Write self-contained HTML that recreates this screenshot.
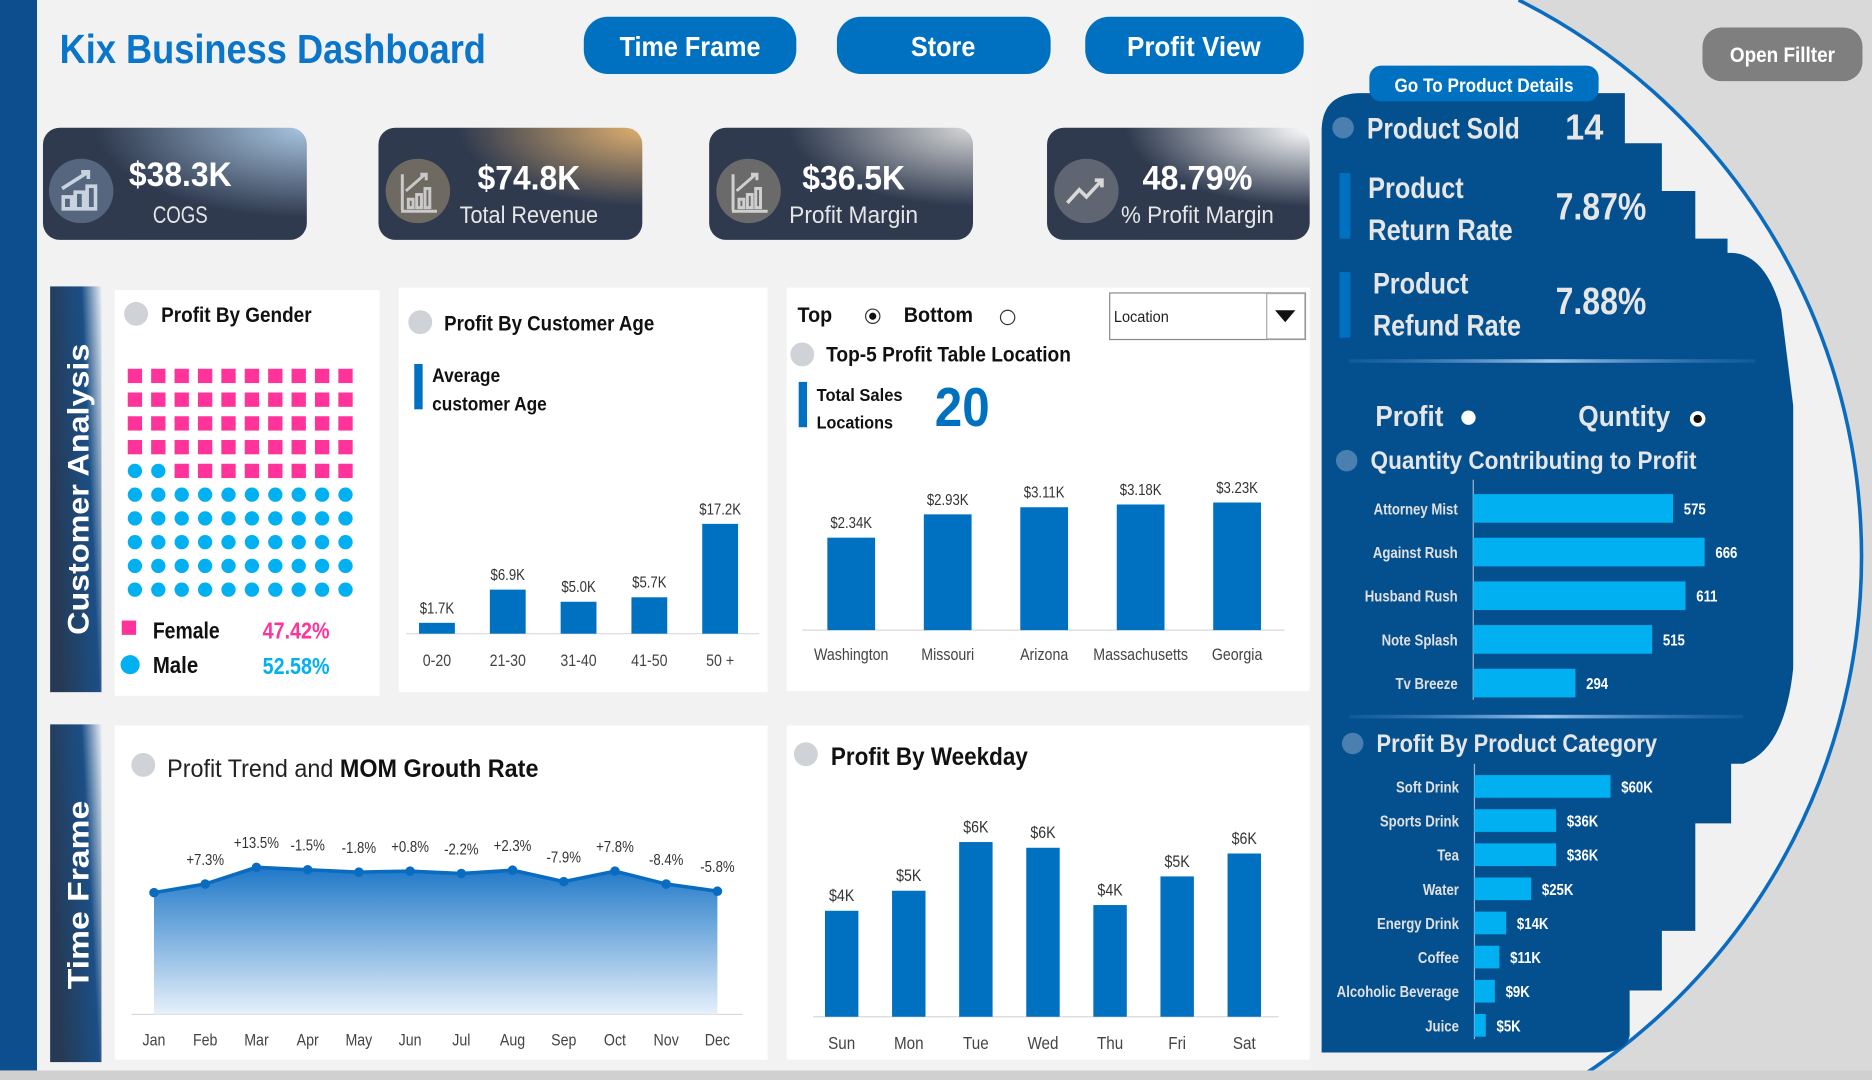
<!DOCTYPE html>
<html><head><meta charset="utf-8"><style>
html,body{margin:0;padding:0;background:#f2f2f2;overflow:hidden;width:1872px;height:1080px}
svg{display:block;position:absolute;left:0;top:0}
text{font-family:"Liberation Sans Narrow","Liberation Sans",sans-serif}
</style></head><body>
<svg id="dash" width="1872" height="1080" viewBox="0 0 1568 905" preserveAspectRatio="none" xmlns="http://www.w3.org/2000/svg">
<defs>
<radialGradient id="gCogs" cx="1" cy="0" r="0.8"><stop offset="0" stop-color="#a9c6e0"/><stop offset="1" stop-color="#2f3a4f"/></radialGradient>
<radialGradient id="gRev" cx="1" cy="0" r="0.7"><stop offset="0" stop-color="#e0b070"/><stop offset="1" stop-color="#2f3a4f"/></radialGradient>
<radialGradient id="gPm" cx="1" cy="0" r="0.7"><stop offset="0" stop-color="#d8d8d8"/><stop offset="1" stop-color="#2f3a4f"/></radialGradient>
<radialGradient id="gPct" cx="1" cy="0" r="0.7"><stop offset="0" stop-color="#ffffff"/><stop offset="1" stop-color="#2f3a4f"/></radialGradient>
<linearGradient id="gBand" x1="1" y1="0" x2="0" y2="0.35"><stop offset="0" stop-color="#e8eef6"/><stop offset="0.35" stop-color="#1b4f86"/><stop offset="1" stop-color="#263a55"/></linearGradient>
<linearGradient id="gArea" x1="0" y1="0" x2="0" y2="1"><stop offset="0" stop-color="#1f78c8"/><stop offset="1" stop-color="#e6f0fa"/></linearGradient>
<linearGradient id="gDiv" x1="0" y1="0" x2="1" y2="0"><stop offset="0" stop-color="#3f7fc0" stop-opacity="0.2"/><stop offset="0.5" stop-color="#9cc4ec"/><stop offset="1" stop-color="#3f7fc0" stop-opacity="0.2"/></linearGradient>
</defs>
<rect x="0" y="0" width="1568" height="905" fill="#f2f2f2"/>
<rect x="1100" y="0" width="468" height="905" fill="#d9d9d9"/>
<path d="M1100 0L1272 0A522 522 0 0 1 1320 905L1100 905Z" fill="#f1f1f1"/>
<path d="M1272 0A522 522 0 0 1 1320 905" fill="none" stroke="#0a6cc0" stroke-width="3"/>
<rect x="0" y="0" width="31" height="900" fill="#0d4f8e"/>
<rect x="0" y="897" width="1568" height="8" fill="#d0d0d0"/>

<text x="50" y="53" font-size="34" font-weight="bold" fill="#0a75c9" textLength="357" lengthAdjust="spacingAndGlyphs">Kix Business Dashboard</text>

<g><rect x="489" y="14" width="178" height="48" rx="20" fill="#0070c0"/><text x="578" y="47" font-size="23" font-weight="bold" fill="#fff" text-anchor="middle" textLength="118" lengthAdjust="spacingAndGlyphs">Time Frame</text></g>
<g><rect x="701" y="14" width="179" height="48" rx="20" fill="#0070c0"/><text x="790" y="47" font-size="23" font-weight="bold" fill="#fff" text-anchor="middle" textLength="54" lengthAdjust="spacingAndGlyphs">Store</text></g>
<g><rect x="909" y="14" width="183" height="48" rx="20" fill="#0070c0"/><text x="1000" y="47" font-size="23" font-weight="bold" fill="#fff" text-anchor="middle" textLength="112" lengthAdjust="spacingAndGlyphs">Profit View</text></g>
<g><rect x="1426" y="23" width="134" height="45" rx="16" fill="#7f7f7f"/><text x="1493" y="52" font-size="18" font-weight="bold" fill="#fff" text-anchor="middle" textLength="88" lengthAdjust="spacingAndGlyphs">Open Fillter</text></g>

<!-- KPI cards -->
<g><rect x="36" y="107" width="221" height="94" rx="14" fill="url(#gCogs)"/><circle cx="68" cy="160" r="27" fill="#55667e"/><path d="M53 175v-10h7v10zM63 175v-14h7v14zM73 175v-19h7v19zM52 158l22-14m-6 0h6v6" stroke="#c9d3df" stroke-width="3" fill="none"/><text x="151" y="156" font-size="29" font-weight="bold" fill="#fff" text-anchor="middle" textLength="86" lengthAdjust="spacingAndGlyphs">$38.3K</text><text x="151" y="187" font-size="20" fill="#e6e6e6" text-anchor="middle" textLength="46" lengthAdjust="spacingAndGlyphs">COGS</text></g>
<g><rect x="317" y="107" width="221" height="94" rx="14" fill="url(#gRev)"/><circle cx="350" cy="160" r="27" fill="#6e6a62"/><path d="M336 177h30M337 176v-30M342 174v-7h4v7zM349 174v-11h4v11zM356 174v-16h4v16zM340 160l16-14m-4 0h5v5" stroke="#c9c9c9" stroke-width="2.5" fill="none"/><text x="443" y="159" font-size="29" font-weight="bold" fill="#fff" text-anchor="middle" textLength="86" lengthAdjust="spacingAndGlyphs">$74.8K</text><text x="443" y="187" font-size="20" fill="#e6e6e6" text-anchor="middle" textLength="116" lengthAdjust="spacingAndGlyphs">Total Revenue</text></g>
<g><rect x="594" y="107" width="221" height="94" rx="14" fill="url(#gPm)"/><circle cx="627" cy="160" r="27" fill="#6a6a6a"/><path d="M613 177h30M614 176v-30M619 174v-7h4v7zM626 174v-11h4v11zM633 174v-16h4v16zM617 160l16-14m-4 0h5v5" stroke="#cfcfcf" stroke-width="2.5" fill="none"/><text x="715" y="159" font-size="29" font-weight="bold" fill="#fff" text-anchor="middle" textLength="86" lengthAdjust="spacingAndGlyphs">$36.5K</text><text x="715" y="187" font-size="20" fill="#e6e6e6" text-anchor="middle" textLength="108" lengthAdjust="spacingAndGlyphs">Profit Margin</text></g>
<g><rect x="877" y="107" width="220" height="94" rx="14" fill="url(#gPct)"/><circle cx="910" cy="160" r="27" fill="#5f6672"/><path d="M894 170l10-11 6 6 13-14m-6 0h6v6" stroke="#d8d8d8" stroke-width="3" fill="none"/><text x="1003" y="159" font-size="29" font-weight="bold" fill="#fff" text-anchor="middle" textLength="92" lengthAdjust="spacingAndGlyphs">48.79%</text><text x="1003" y="187" font-size="20" fill="#e6e6e6" text-anchor="middle" textLength="128" lengthAdjust="spacingAndGlyphs">% Profit Margin</text></g>

<!-- Section bands -->
<g><rect x="42" y="240" width="43" height="340" fill="url(#gBand)"/><text transform="translate(74,410) rotate(-90)" font-size="25" font-weight="bold" fill="#fff" text-anchor="middle" textLength="244" lengthAdjust="spacingAndGlyphs" font-family="Liberation Sans,sans-serif">Customer Analysis</text></g>
<g><rect x="42" y="607" width="43" height="283" fill="url(#gBand)"/><text transform="translate(74,750) rotate(-90)" font-size="25" font-weight="bold" fill="#fff" text-anchor="middle" textLength="158" lengthAdjust="spacingAndGlyphs" font-family="Liberation Sans,sans-serif">Time Frame</text></g>

<!-- Panels -->
<rect x="96" y="243" width="222" height="340" fill="#fff"/>
<rect x="334" y="241" width="309" height="339" fill="#fff"/>
<rect x="659" y="241" width="438" height="338" fill="#fff"/>
<rect x="96" y="608" width="547" height="280" fill="#fff"/>
<rect x="659" y="608" width="438" height="280" fill="#fff"/>

<!-- Gender -->
<circle cx="114" cy="263" r="10" fill="#cfd2d6"/>
<text x="135" y="270" font-size="18" font-weight="bold" fill="#111" textLength="126" lengthAdjust="spacingAndGlyphs">Profit By Gender</text>
<g id="waffle"></g>
<rect x="102" y="520" width="12" height="12" fill="#ff3399"/>
<text x="128" y="535" font-size="19" font-weight="bold" fill="#111" textLength="56" lengthAdjust="spacingAndGlyphs">Female</text>
<text x="220" y="535" font-size="19" font-weight="bold" fill="#ff3399" textLength="56" lengthAdjust="spacingAndGlyphs">47.42%</text>
<circle cx="109" cy="557" r="8" fill="#00b0f0"/>
<text x="128" y="564" font-size="19" font-weight="bold" fill="#111" textLength="38" lengthAdjust="spacingAndGlyphs">Male</text>
<text x="220" y="565" font-size="19" font-weight="bold" fill="#00b0f0" textLength="56" lengthAdjust="spacingAndGlyphs">52.58%</text>

<!-- Age -->
<circle cx="352" cy="270" r="10" fill="#cfd2d6"/>
<text x="372" y="277" font-size="18" font-weight="bold" fill="#111" textLength="176" lengthAdjust="spacingAndGlyphs">Profit By Customer Age</text>
<rect x="347" y="305" width="7" height="38" fill="#0070c0"/>
<text x="362" y="320" font-size="16" font-weight="bold" fill="#111" textLength="57" lengthAdjust="spacingAndGlyphs">Average</text>
<text x="362" y="344" font-size="16" font-weight="bold" fill="#111" textLength="96" lengthAdjust="spacingAndGlyphs">customer Age</text>
<line x1="340" y1="531" x2="636" y2="531" stroke="#d9d9d9"/>
<g id="ageChart"></g>

<!-- Location -->
<text x="668" y="270" font-size="18" font-weight="bold" fill="#111" textLength="29" lengthAdjust="spacingAndGlyphs">Top</text>
<circle cx="731" cy="265" r="6" fill="#fff" stroke="#333"/><circle cx="731" cy="265" r="3" fill="#111"/>
<text x="757" y="270" font-size="18" font-weight="bold" fill="#111" textLength="58" lengthAdjust="spacingAndGlyphs">Bottom</text>
<circle cx="844" cy="266" r="6" fill="#fff" stroke="#333"/>
<g><rect x="929.5" y="245.5" width="164" height="39" fill="#fff" stroke="#888"/><text x="933" y="270" font-size="13" fill="#222" textLength="46" lengthAdjust="spacingAndGlyphs">Location</text><rect x="1061" y="246" width="32" height="38" fill="#fff" stroke="#aaa"/><path d="M1068 260h17l-8.5 10z" fill="#111"/></g>
<circle cx="672" cy="297" r="10" fill="#cfd2d6"/>
<text x="692" y="303" font-size="18" font-weight="bold" fill="#111" textLength="205" lengthAdjust="spacingAndGlyphs">Top-5 Profit Table Location</text>
<rect x="669" y="320" width="7" height="38" fill="#0070c0"/>
<text x="684" y="336" font-size="15" font-weight="bold" fill="#111" textLength="72" lengthAdjust="spacingAndGlyphs">Total Sales</text>
<text x="684" y="359" font-size="15" font-weight="bold" fill="#111" textLength="64" lengthAdjust="spacingAndGlyphs">Locations</text>
<text x="806" y="357" font-size="46" font-weight="bold" fill="#0070c0" text-anchor="middle" textLength="46" lengthAdjust="spacingAndGlyphs">20</text>
<line x1="672" y1="528" x2="1076" y2="528" stroke="#d9d9d9"/>
<g id="locChart"></g>

<!-- Trend -->
<circle cx="120" cy="641" r="10" fill="#cfd2d6"/>
<text x="140" y="651" font-size="21" fill="#222" textLength="311" lengthAdjust="spacingAndGlyphs">Profit Trend and <tspan font-weight="bold" fill="#111">MOM Grouth Rate</tspan></text>
<line x1="110" y1="850" x2="622" y2="850" stroke="#d9d9d9"/>
<g id="trendChart"></g>

<!-- Weekday -->
<circle cx="675" cy="632" r="10" fill="#cfd2d6"/>
<text x="696" y="641" font-size="21" font-weight="bold" fill="#111" textLength="165" lengthAdjust="spacingAndGlyphs">Profit By Weekday</text>
<line x1="681" y1="852" x2="1071" y2="852" stroke="#d9d9d9"/>
<g id="weekChart"></g>

<!-- Right panel -->
<path d="M1107 110Q1107 78 1140 78L1361 78L1361 120L1392 120L1392 160L1420 160L1420 200L1447 200L1447 212Q1478 210 1492 260L1502 340L1502 560Q1495 628 1460 640L1450 640L1450 690L1420 690L1420 780L1392 780L1392 830L1365 830L1365 868Q1362 882 1340 882L1107 882Z" fill="#04508f"/>
<g><rect x="1147" y="55" width="192" height="30" rx="10" fill="#0070c0"/><text x="1243" y="77" font-size="16" font-weight="bold" fill="#fff" text-anchor="middle" textLength="150" lengthAdjust="spacingAndGlyphs">Go To Product Details</text></g>
<circle cx="1125" cy="107" r="9" fill="#4a7fb0"/>
<text x="1145" y="116" font-size="25" font-weight="bold" fill="#e6e6e6" textLength="128" lengthAdjust="spacingAndGlyphs">Product Sold</text>
<text x="1311" y="117" font-size="30" font-weight="bold" fill="#e6e6e6" textLength="32" lengthAdjust="spacingAndGlyphs">14</text>
<rect x="1122" y="145" width="9" height="55" fill="#0070c0"/>
<text x="1146" y="166" font-size="25" font-weight="bold" fill="#e6e6e6" textLength="80" lengthAdjust="spacingAndGlyphs">Product</text>
<text x="1146" y="201" font-size="25" font-weight="bold" fill="#e6e6e6" textLength="121" lengthAdjust="spacingAndGlyphs">Return Rate</text>
<text x="1303" y="184" font-size="32" font-weight="bold" fill="#e6e6e6" textLength="76" lengthAdjust="spacingAndGlyphs">7.87%</text>
<rect x="1122" y="228" width="9" height="55" fill="#0070c0"/>
<text x="1150" y="246" font-size="25" font-weight="bold" fill="#e6e6e6" textLength="80" lengthAdjust="spacingAndGlyphs">Product</text>
<text x="1150" y="281" font-size="25" font-weight="bold" fill="#e6e6e6" textLength="124" lengthAdjust="spacingAndGlyphs">Refund Rate</text>
<text x="1303" y="263" font-size="32" font-weight="bold" fill="#e6e6e6" textLength="76" lengthAdjust="spacingAndGlyphs">7.88%</text>
<rect x="1130" y="301" width="340" height="3" fill="url(#gDiv)"/>
<text x="1152" y="357" font-size="24" font-weight="bold" fill="#e6e6e6" textLength="57" lengthAdjust="spacingAndGlyphs">Profit</text>
<circle cx="1230" cy="350" r="6" fill="#fff"/>
<text x="1322" y="357" font-size="24" font-weight="bold" fill="#e6e6e6" textLength="77" lengthAdjust="spacingAndGlyphs">Quntity</text>
<circle cx="1422" cy="351" r="6.5" fill="#fff"/><circle cx="1422" cy="351" r="3.5" fill="#111"/>
<circle cx="1128" cy="386" r="9" fill="#4a7fb0"/>
<text x="1148" y="393" font-size="21" font-weight="bold" fill="#e6e6e6" textLength="273" lengthAdjust="spacingAndGlyphs">Quantity Contributing to Profit</text>
<g id="qtyChart"></g>
<rect x="1130" y="599" width="330" height="3" fill="url(#gDiv)"/>
<circle cx="1133" cy="623" r="9" fill="#4a7fb0"/>
<text x="1153" y="630" font-size="21" font-weight="bold" fill="#e6e6e6" textLength="235" lengthAdjust="spacingAndGlyphs">Profit By Product Category</text>
<g id="catChart"></g>
</svg>
<script>
// ---- data ----
const femaleCount = 48;
const waffleTotal = 100;
const ageCategories = ["0-20","21-30","31-40","41-50","50 +"];
const ageValues = [1.7, 6.9, 5.0, 5.7, 17.2];
const locCategories = ["Washington","Missouri","Arizona","Massachusetts","Georgia"];
const locValues = [2.34, 2.93, 3.11, 3.18, 3.23];
const months = ["Jan","Feb","Mar","Apr","May","Jun","Jul","Aug","Sep","Oct","Nov","Dec"];
const monthProfit = [2.55, 2.73, 3.08, 3.03, 2.98, 3.0, 2.95, 3.02, 2.78, 3.0, 2.73, 2.58];
const momLabels = ["","+7.3%","+13.5%","-1.5%","-1.8%","+0.8%","-2.2%","+2.3%","-7.9%","+7.8%","-8.4%","-5.8%"];
const days = ["Sun","Mon","Tue","Wed","Thu","Fri","Sat"];
const dayProfit = [3.7, 4.4, 6.1, 5.9, 3.9, 4.9, 5.7];
const dayLabels = ["$4K","$5K","$6K","$6K","$4K","$5K","$6K"];
const products = ["Attorney Mist","Against Rush","Husband Rush","Note Splash","Tv Breeze"];
const productQty = [575, 666, 611, 515, 294];
const categories = ["Soft Drink","Sports Drink","Tea","Water","Energy Drink","Coffee","Alcoholic Beverage","Juice"];
const categoryProfit = [60, 36, 36, 25, 14, 11, 9, 5];

const NS = "http://www.w3.org/2000/svg";
function mk(parent, tag, attrs, txt){
  const e = document.createElementNS(NS, tag);
  for (const k in attrs) e.setAttribute(k, attrs[k]);
  if (txt !== undefined) e.textContent = txt;
  parent.appendChild(e); return e;
}
const FONT = "'Liberation Sans Narrow','Liberation Sans',sans-serif";

// waffle
(function(){
  const g = document.getElementById("waffle");
  const maleCount = waffleTotal - femaleCount;
  for (let i = 0; i < waffleTotal; i++){
    const r = Math.floor(i/10), c = i%10;
    const cx = 113 + c*19.6, cy = 315 + r*19.9;
    const idx = (9-r)*10 + c;
    const isMale = idx < maleCount;
    let el;
    if (isMale) el = mk(g, "circle", {cx:cx, cy:cy, r:6, fill:"#00b0f0"});
    else el = mk(g, "rect", {x:cx-6, y:cy-6, width:12, height:12, fill:"#ff3399"});
    
    
  }
})();

function vbars(gid, cats, vals, labels, x0, step, bw, base, pxPer, color, catY, lblSize, catSize){
  const g = document.getElementById(gid);
  cats.forEach((c,i)=>{
    const cx = x0 + i*step, h = vals[i]*pxPer;
    const b = mk(g, "rect", {x:cx-bw/2, y:base-h, width:bw, height:h, fill:color});
    
    
    const t = mk(g, "text", {x:cx, y:base-h-8, "font-size":lblSize, fill:"#333", "text-anchor":"middle", "font-family":FONT, transform:"translate("+cx+",0) scale(0.85,1) translate("+(-cx)+",0)"}, labels[i]);
    
    
    const a = mk(g, "text", {x:cx, y:catY, "font-size":catSize, fill:"#444", "text-anchor":"middle", "font-family":FONT, transform:"translate("+cx+",0) scale(0.85,1) translate("+(-cx)+",0)"}, c);
    
    
  });
}
vbars("ageChart", ageCategories, ageValues, ageValues.map(v=>"$"+v.toFixed(1)+"K"), 366, 59.3, 30, 531, 5.35, "#0070c0", 558, 13, 14);
vbars("locChart", locCategories, locValues, locValues.map(v=>"$"+v.toFixed(2)+"K"), 713, 80.8, 40, 528, 33.1, "#0070c0", 553, 13, 14);
vbars("weekChart", days, dayProfit, dayLabels, 705, 56.2, 28, 852, 24, "#0070c0", 879, 14, 15);

(function(){
  const g = document.getElementById("trendChart");
  const x = i => 129 + i*42.9;
  const y = v => 850 - v*40;
  let line = "", area = "M" + x(0) + " 850";
  monthProfit.forEach((v,i)=>{ line += (i?"L":"M") + x(i) + " " + y(v); area += "L" + x(i) + " " + y(v); });
  area += "L" + x(monthProfit.length-1) + " 850Z";
  const a = mk(g, "path", {d:area, fill:"url(#gArea)"});
  
  
  const l = mk(g, "path", {d:line, fill:"none", stroke:"#0a6cc0", "stroke-width":3});
  
  
  monthProfit.forEach((v,i)=>{
    const p = mk(g, "circle", {cx:x(i), cy:y(v), r:4, fill:"#0a6cc0"});
    
    
    const tf = "translate("+x(i)+",0) scale(0.85,1) translate("+(-x(i))+",0)";
    if (momLabels[i]){
      const t = mk(g, "text", {x:x(i), y:y(v)-16, "font-size":13, fill:"#333", "text-anchor":"middle", "font-family":FONT, transform:tf}, momLabels[i]);
      
      
    }
    const m = mk(g, "text", {x:x(i), y:876, "font-size":14, fill:"#444", "text-anchor":"middle", "font-family":FONT, transform:tf}, months[i]);
    
    
  });
})();

function hbars(gid, cats, vals, labels, x0, y0, step, bh, pxPer, lblSize){
  const g = document.getElementById(gid);
  mk(g, "line", {x1:x0, y1:y0-bh, x2:x0, y2:y0+(cats.length-1)*step+bh/2+2, stroke:"#9fb8d3"});
  cats.forEach((c,i)=>{
    const cy = y0 + i*step, w = vals[i]*pxPer;
    const b = mk(g, "rect", {x:x0, y:cy-bh/2, width:w, height:bh, fill:"#00b0f0"});
    
    
    const lx = x0-13;
    const t = mk(g, "text", {x:lx, y:cy+5, "font-size":lblSize, fill:"#e0e0e0", "text-anchor":"end", "font-weight":"bold", "font-family":FONT, transform:"translate("+lx+",0) scale(0.85,1) translate("+(-lx)+",0)"}, c);
    
    
    const vx = x0+w+9;
    const v = mk(g, "text", {x:vx, y:cy+5, "font-size":lblSize, fill:"#fff", "font-weight":"bold", "font-family":FONT, transform:"translate("+vx+",0) scale(0.85,1) translate("+(-vx)+",0)"}, labels[i]);
    
    
  });
}
hbars("qtyChart", products, productQty, productQty.map(String), 1234, 426, 36.6, 24, 0.291, 13);
hbars("catChart", categories, categoryProfit, categoryProfit.map(v=>"$"+v+"K"), 1235, 659, 28.6, 19, 1.9, 13);
</script>
</body></html>
